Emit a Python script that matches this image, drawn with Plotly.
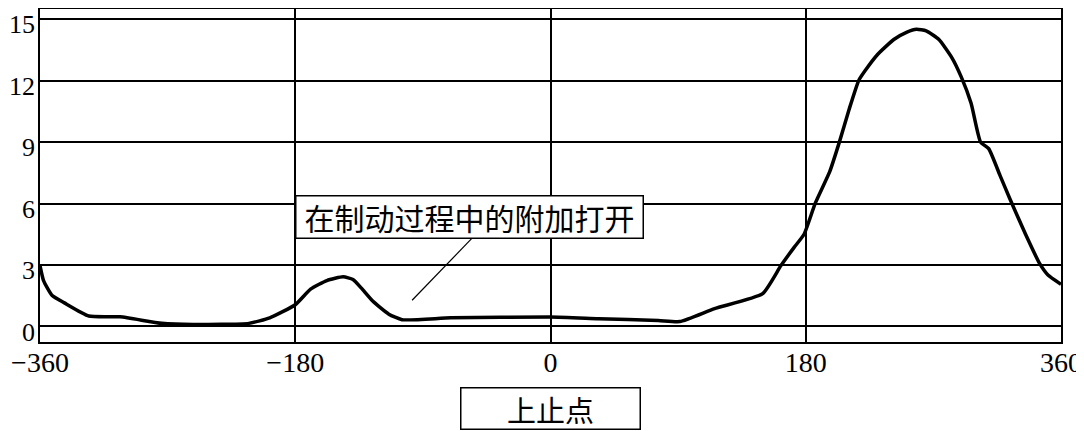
import plotly.graph_objects as go

# crank angle (deg) and lift
angle = [-360, -357.5, -351.4, -342.8, -325.6, -303.5, -274.1, -252.0, -212.7, -198.0,
         -180, -169.2, -157.7, -146.2, -139.3, -133.5, -125.4, -114.0, -104.7, -70.2,
         0, 33.9, 76.0, 91.2, 115.7, 149.6, 162.5, 171.8, 178.8, 186.8,
         196.9, 203.7, 210.5, 217.3, 221.8, 230.8, 242.1, 251.4, 258.1, 264.9,
         273.9, 283.0, 289.8, 296.6, 303.3, 309.0, 316.9, 323.7, 335.0, 345.1,
         350.8, 360]
lift = [2.97, 2.24, 1.51, 1.15, 0.51, 0.47, 0.15, 0.09, 0.15, 0.42,
        1.06, 1.82, 2.24, 2.42, 2.29, 1.88, 1.24, 0.60, 0.33, 0.42,
        0.46, 0.38, 0.29, 0.24, 0.87, 1.60, 2.97, 3.86, 4.50, 6.03,
        7.56, 9.00, 10.58, 12.00, 12.48, 13.29, 14.01, 14.37, 14.51, 14.43,
        14.01, 13.13, 12.16, 10.90, 9.00, 8.68, 7.39, 6.27, 4.50, 3.05,
        2.51, 2.06]

x_ticks = [-360, -180, 0, 180, 360]
y_ticks = [0, 3, 6, 9, 12, 15]

note_text = "在制动过程中的附加打开"
tdc_text = "上止点"

fig = go.Figure()
fig.add_trace(go.Scatter(x=angle, y=lift, mode="lines",
                         line=dict(color="black", width=3.5, shape="spline", smoothing=0.5),
                         hoverinfo="skip"))

# leader line from the note box down to the curve
fig.add_shape(type="line", x0=-55.3, y0=4.31, x1=-97.6, y1=1.28,
              line=dict(color="black", width=1.2))

fig.add_annotation(x=-57.2, y=5.33, xref="x", yref="y", text=note_text,
                   showarrow=False, width=342, height=37, borderpad=2,
                   bordercolor="black", borderwidth=1.5, bgcolor="white",
                   font=dict(family="Noto Sans CJK SC", size=30, color="black"))

fig.add_annotation(x=0.5, y=-0.2003, xref="paper", yref="paper", text=tdc_text,
                   showarrow=False, width=174, height=36, borderpad=2,
                   bordercolor="black", borderwidth=1.5, bgcolor="white",
                   yanchor="middle",
                   font=dict(family="Noto Sans CJK SC", size=29, color="black"))

fig.update_xaxes(range=[-360, 360], tickvals=x_ticks, showgrid=True,
                 gridcolor="black", gridwidth=1.5, zeroline=False, automargin=False,
                 showline=True, linecolor="black", linewidth=1.5, mirror=True,
                 ticks="", ticklen=0, ticklabeloverflow="allow", ticklabelstandoff=-5,
                 tickfont=dict(family="Liberation Serif", size=28, color="black"))
fig.update_yaxes(range=[-0.76, 15.5], tickvals=y_ticks, showgrid=True,
                 gridcolor="black", gridwidth=2, zeroline=False, automargin=False,
                 showline=True, linecolor="black", linewidth=1.5, mirror=True,
                 ticks="", ticklen=0, ticklabeloverflow="allow", ticklabelstandoff=-2,
                 ticklabelshift=5,
                 tickfont=dict(family="Liberation Serif", size=26, color="black"))

# the page body adds an 8px offset, so the figure is sized to fit inside it
fig.update_layout(width=1076, height=423, showlegend=False,
                  margin=dict(l=32, r=23, t=1, b=89),
                  plot_bgcolor="white", paper_bgcolor="white")

fig.write_html("out.html")
